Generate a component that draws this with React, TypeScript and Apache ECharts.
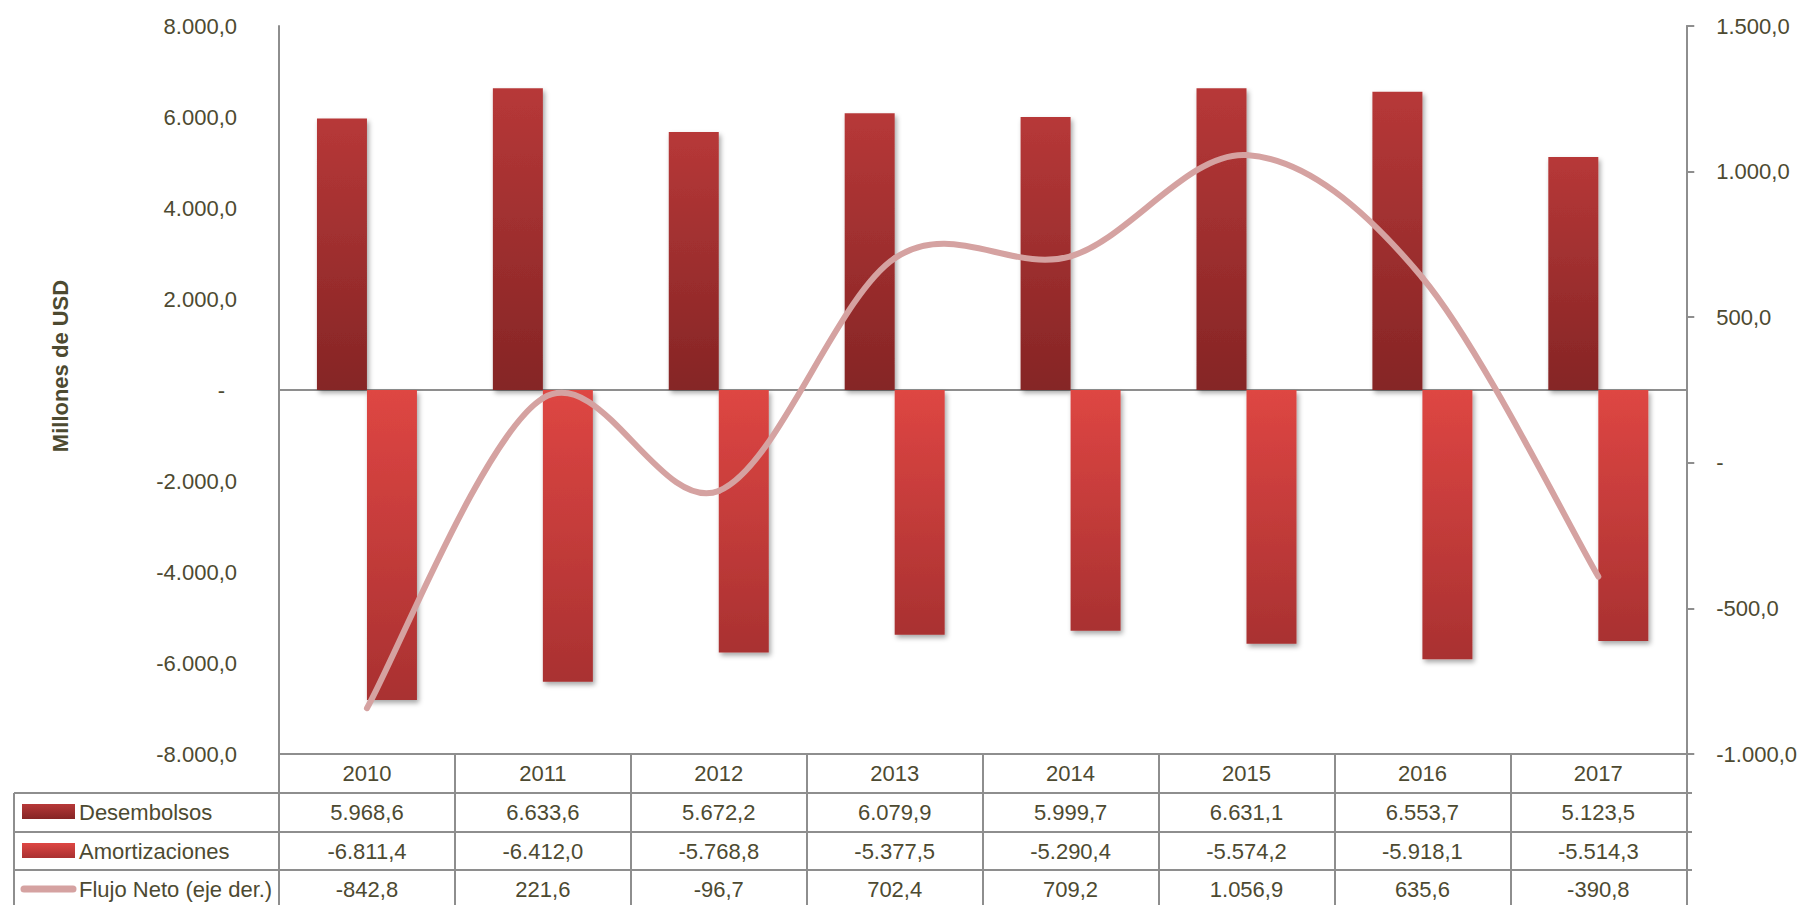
import React, { useEffect, useRef } from "react";
import * as echarts from "echarts";

const categories = ["2010", "2011", "2012", "2013", "2014", "2015", "2016", "2017"];
const desembolsos = [5968.6, 6633.6, 5672.2, 6079.9, 5999.7, 6631.1, 6553.7, 5123.5];
const amortizaciones = [-6811.4, -6412.0, -5768.8, -5377.5, -5290.4, -5574.2, -5918.1, -5514.3];
const flujoNeto = [-842.8, 221.6, -96.7, 702.4, 709.2, 1056.9, 635.6, -390.8];
const seriesNames = ["Desembolsos", "Amortizaciones", "Flujo Neto (eje der.)"];
const leftAxisRange = { min: -8000, max: 8000, interval: 2000 };
const rightAxisRange = { min: -1000, max: 1500, interval: 500 };
const axisTitle = "Millones de USD";

const TEXT = "#4d4a31";
const GRID = "#8e8e8e";
const LINE = "#d5a2a1";
const FONT = "'Liberation Sans', Arial, sans-serif";

function fmt(v: number): string {
  if (Math.abs(v) < 1e-9) return "-";
  const s = Math.abs(v).toFixed(1);
  const [i, d] = s.split(".");
  const ii = i.replace(/\B(?=(\d{3})+(?!\d))/g, ".");
  return (v < 0 ? "-" : "") + ii + "," + d;
}

const gradDes = () =>
  new echarts.graphic.LinearGradient(0, 0, 0, 1, [
    { offset: 0, color: "#b73838" },
    { offset: 1, color: "#852525" },
  ]);
const gradAmo = () =>
  new echarts.graphic.LinearGradient(0, 0, 0, 1, [
    { offset: 0, color: "#de4643" },
    { offset: 1, color: "#a93131" },
  ]);

export default function App() {
  const ref = useRef<HTMLDivElement>(null);
  useEffect(() => {
    document.body.style.margin = "0";
    const chart = echarts.init(ref.current!, null, { renderer: "svg" });
    const shadow = {
      shadowColor: "rgba(0,0,0,0.35)",
      shadowBlur: 5,
      shadowOffsetX: 2,
      shadowOffsetY: 3,
    };
    const n = flujoNeto.length;
    chart.setOption({
      animation: false,
      backgroundColor: "#ffffff",
      textStyle: { fontFamily: FONT },
      grid: { left: 279, right: 108, top: 26, bottom: 151 },
      xAxis: [
        {
          type: "category",
          data: categories,
          position: "bottom",
          axisLine: { onZero: true, onZeroAxisIndex: 0, lineStyle: { color: GRID, width: 2 } },
          axisTick: { show: false },
          axisLabel: { show: false },
        },
        {
          type: "category",
          data: categories,
          position: "bottom",
          axisLine: { onZero: false, lineStyle: { color: GRID, width: 2 } },
          axisTick: { show: true, length: 160, lineStyle: { color: GRID, width: 2 } },
          axisLabel: { margin: 8, color: TEXT, fontSize: 22, fontFamily: FONT },
        },
      ],
      yAxis: [
        {
          type: "value",
          ...leftAxisRange,
          axisLine: { show: true, lineStyle: { color: GRID, width: 2 } },
          axisTick: { show: false },
          splitLine: { show: false },
          axisLabel: {
            margin: 42,
            color: TEXT,
            fontSize: 22,
            fontFamily: FONT,
            formatter: (v: number) => (Math.abs(v) < 1e-9 ? "{z|-}" : fmt(v)),
            rich: { z: { padding: [0, 12, 0, 0], fontSize: 22, color: TEXT, fontFamily: FONT } },
          },
        },
        {
          type: "value",
          position: "right",
          ...rightAxisRange,
          axisLine: { show: true, lineStyle: { color: GRID, width: 2 } },
          axisTick: { show: true, length: 8, lineStyle: { color: GRID, width: 2 } },
          splitLine: { show: false },
          axisLabel: {
            margin: 30,
            color: TEXT,
            fontSize: 22,
            fontFamily: FONT,
            formatter: (v: number) => fmt(v),
          },
        },
      ],
      series: [
        {
          name: seriesNames[0],
          type: "bar",
          xAxisIndex: 0,
          yAxisIndex: 0,
          data: desembolsos,
          barWidth: 50,
          barGap: "0%",
          itemStyle: { color: gradDes(), ...shadow },
        },
        {
          name: seriesNames[1],
          type: "bar",
          xAxisIndex: 0,
          yAxisIndex: 0,
          data: amortizaciones,
          barWidth: 50,
          barGap: "0%",
          itemStyle: { color: gradAmo(), ...shadow },
        },
        {
          name: seriesNames[2],
          type: "custom",
          xAxisIndex: 0,
          yAxisIndex: 1,
          data: flujoNeto.map((v, i) => [i, v]),
          encode: { x: 0, y: 1 },
          z: 5,
          renderItem: (params: any, api: any) => {
            const i = params.dataIndexInside;
            if (i >= n - 1) return { type: "group", children: [] };
            const pt = (k: number) => {
              const kk = Math.max(0, Math.min(n - 1, k));
              return api.coord([api.value(0, kk), api.value(1, kk)]);
            };
            const p0 = pt(i - 1);
            const p1 = pt(i);
            const p2 = pt(i + 1);
            const p3 = pt(i + 2);
            return {
              type: "bezierCurve",
              shape: {
                x1: p1[0],
                y1: p1[1],
                x2: p2[0],
                y2: p2[1],
                cpx1: p1[0] + (p2[0] - p0[0]) / 6,
                cpy1: p1[1] + (p2[1] - p0[1]) / 6,
                cpx2: p2[0] - (p3[0] - p1[0]) / 6,
                cpy2: p2[1] - (p3[1] - p1[1]) / 6,
              },
              style: { stroke: LINE, lineWidth: 6, fill: null, lineCap: "round" },
            };
          },
        },
      ],
    });

    const xs = categories.map((c) => chart.convertToPixel({ xAxisIndex: 1 }, c) as number);
    const tableLeft = 14;
    const tableRight = 1692;
    const rowLines = [793, 832, 870];
    const rowCenters = [812, 851, 889];
    const rows = [desembolsos, amortizaciones, flujoNeto];
    const g: any[] = [];
    rowLines.forEach((y) =>
      g.push({
        type: "line",
        shape: { x1: tableLeft, y1: y, x2: tableRight, y2: y },
        style: { stroke: GRID, lineWidth: 2 },
        z: 10,
      })
    );
    g.push({
      type: "line",
      shape: { x1: tableLeft, y1: 793, x2: tableLeft, y2: 920 },
      style: { stroke: GRID, lineWidth: 2 },
      z: 10,
    });
    rows.forEach((vals, r) => {
      vals.forEach((v, i) =>
        g.push({
          type: "text",
          z: 11,
          style: {
            text: fmt(v),
            x: xs[i],
            y: rowCenters[r],
            align: "center",
            verticalAlign: "middle",
            fill: TEXT,
            font: `22px ${FONT}`,
          },
        })
      );
      g.push({
        type: "text",
        z: 11,
        style: {
          text: seriesNames[r],
          x: 79,
          y: rowCenters[r],
          align: "left",
          verticalAlign: "middle",
          fill: TEXT,
          font: `22px ${FONT}`,
        },
      });
    });
    g.push({
      type: "rect",
      z: 11,
      shape: { x: 22, y: 804, width: 53, height: 15 },
      style: { fill: gradDes() },
    });
    g.push({
      type: "rect",
      z: 11,
      shape: { x: 22, y: 843, width: 53, height: 15 },
      style: { fill: gradAmo() },
    });
    g.push({
      type: "line",
      z: 11,
      shape: { x1: 24, y1: 889, x2: 73, y2: 889 },
      style: { stroke: LINE, lineWidth: 7, lineCap: "round" },
    });
    g.push({
      type: "text",
      z: 11,
      x: 60,
      y: 366,
      rotation: Math.PI / 2,
      style: {
        text: axisTitle,
        x: 0,
        y: 0,
        align: "center",
        verticalAlign: "middle",
        fill: TEXT,
        font: `bold 22px ${FONT}`,
      },
    });
    chart.setOption({ graphic: g });
    return () => chart.dispose();
  }, []);
  return (
    <div
      ref={ref}
      style={{ position: "absolute", left: 0, top: 0, width: 1800, height: 905 }}
    />
  );
}
